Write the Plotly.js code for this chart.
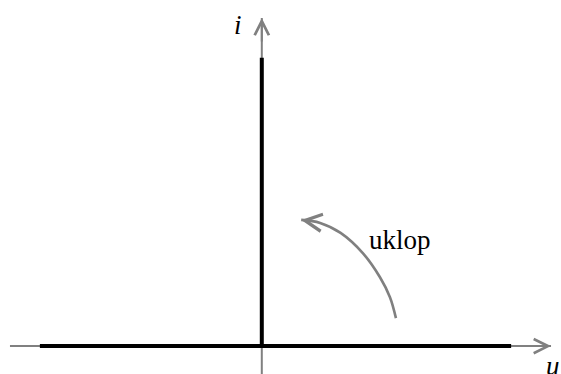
<!DOCTYPE html>
<html>
<head>
<meta charset="utf-8">
<script src="https://cdn.plot.ly/plotly-3.0.1.min.js"></script>
<style>
  html, body { margin: 0; padding: 0; background: #fff; }
  #chart { width: 561px; height: 374px; }
</style>
</head>
<body>
<div id="chart"></div>
<script>
// ideal switch characteristic: off state (i = 0) and on state (u = 0)
const offU = [-4.45, 5.0];
const offI = [0, 0];
const onU = [0, 0];
const onI = [0, 5.78];

// "uklop" (switch-on) arc
const arcU = [2.69, 2.57, 2.37, 2.03, 1.58, 1.17, 0.79];
const arcI = [0.56, 0.98, 1.38, 1.86, 2.27, 2.47, 2.53];

// axes: [tail, tip]
const uAxisU = [-5.05, 5.80];
const iAxisI = [-0.6, 6.58];

const axisLabels = ['u', 'i'];
const arcLabel = 'uklop';

const gray = '#808080';
const serif = 'Liberation Serif';

const traces = [
    // gray axes underneath
    {
        x: uAxisU, y: [0, 0], mode: 'lines', type: 'scatter',
        line: { color: gray, width: 2 }, hoverinfo: 'skip'
    },
    {
        x: [0, 0], y: iAxisI, mode: 'lines', type: 'scatter',
        line: { color: gray, width: 2 }, hoverinfo: 'skip'
    },
    {
        x: arcU, y: arcI, mode: 'lines', type: 'scatter',
        line: { color: gray, width: 2.6, shape: 'spline' },
        hoverinfo: 'skip'
    },
    {
        x: offU, y: offI, mode: 'lines', type: 'scatter',
        line: { color: '#000', width: 4 },
        hoverinfo: 'skip'
    },
    {
        x: onU, y: onI, mode: 'lines', type: 'scatter',
        line: { color: '#000', width: 4 },
        hoverinfo: 'skip'
    }
];

// arrowheads only, on short tails
function arrow(x0, y0, x1, y1, w) {
    return {
        x: x1, y: y1, ax: x0, ay: y0,
        xref: 'x', yref: 'y', axref: 'x', ayref: 'y',
        text: '', showarrow: true,
        arrowhead: 5, arrowsize: 1.4, arrowwidth: w, arrowcolor: gray
    };
}

const n = arcU.length;
const annotations = [
    arrow(uAxisU[1] - 0.5, 0, uAxisU[1], 0, 2),
    arrow(0, iAxisI[1] - 0.5, 0, iAxisI[1], 2),
    arrow(1.01, 2.50, arcU[n - 1], arcI[n - 1], 2.4),
    {
        x: 5.84, y: -0.40, xref: 'x', yref: 'y', text: '<i>' + axisLabels[0] + '</i>', showarrow: false,
        font: { family: serif, size: 27, color: '#000' }
    },
    {
        x: -0.48, y: 6.44, xref: 'x', yref: 'y', text: '<i>' + axisLabels[1] + '</i>', showarrow: false,
        font: { family: serif, size: 27, color: '#000' }
    },
    {
        x: 2.77, y: 2.13, xref: 'x', yref: 'y', text: arcLabel, showarrow: false,
        font: { family: serif, size: 27, color: '#000' }
    }
];

const layout = {
    width: 561,
    height: 374,
    margin: { l: 0, r: 0, t: 0, b: 0 },
    paper_bgcolor: '#fff',
    plot_bgcolor: '#fff',
    showlegend: false,
    xaxis: { range: [-5.25, 6.0], visible: false, fixedrange: true },
    yaxis: { range: [-0.56, 6.94], visible: false, fixedrange: true },
    annotations: annotations
};

Plotly.newPlot('chart', traces, layout, { displayModeBar: false, staticPlot: true });
</script>
</body>
</html>
